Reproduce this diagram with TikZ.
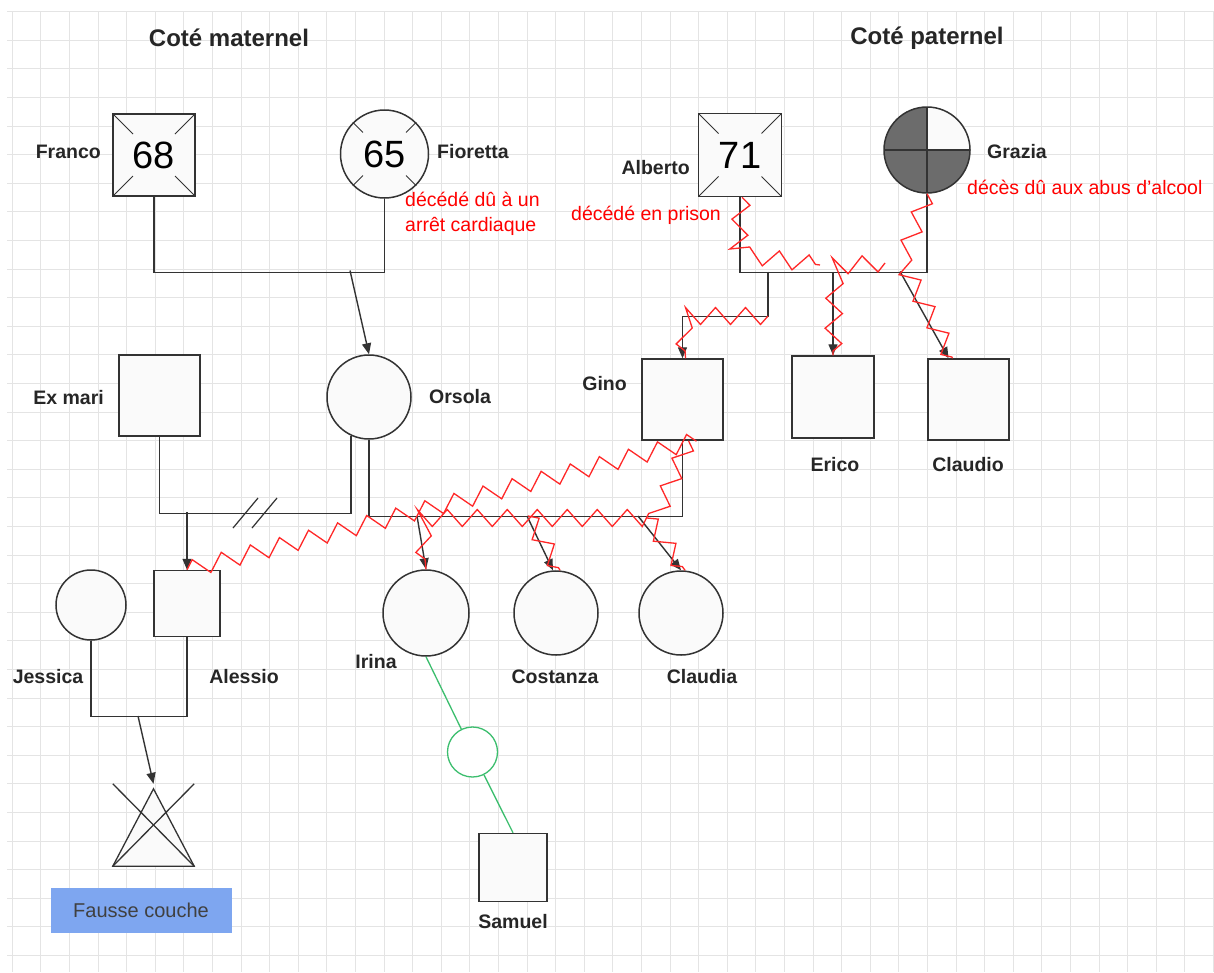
\documentclass[tikz,border=0pt]{standalone}
\usepackage{fontspec}
\setmainfont{Liberation Sans}
\usetikzlibrary{arrows.meta,decorations.pathmorphing,calc}
\newcommand\lblfont{\fontsize{19.5}{23}\selectfont\bfseries}
\newcommand\ttlfont{\fontsize{24}{28}\selectfont\bfseries}
\newcommand\numfont{\fontsize{38}{44}\selectfont}
\newcommand\redfont{\fontsize{19.5}{25}\selectfont}
\newcommand\fcfont{\fontsize{20}{24}\selectfont}
\definecolor{ink}{RGB}{51,51,51}
\definecolor{hostred}{RGB}{255,40,40}
\definecolor{fcblue}{RGB}{126,166,240}
\definecolor{ivfgreen}{RGB}{60,190,110}
\definecolor{gridc}{RGB}{228,228,228}
\definecolor{grazfill}{RGB}{108,108,108}
\tikzset{
  person/.style={draw=ink, line width=1.5pt, fill=black!2, inner sep=0pt},
  male/.style={person, rectangle, minimum size=#1},
  fem/.style={person, circle, minimum size=#1},
  ln/.style={draw=ink, line width=1.4pt},
  arr/.style={ln, -{Triangle[length=11pt,width=9pt]}},
  hostile/.style={draw=hostred, line width=1.3pt, decorate,
    decoration={zigzag, segment length=30pt, amplitude=8.5pt}},
  lbl/.style={font=\lblfont, text=black!85, inner sep=0pt},
  ttl/.style={font=\ttlfont, text=black!85, inner sep=0pt},
  redtxt/.style={font=\redfont, text=red, inner sep=0pt, align=left},
  gridline/.style={draw=gridc, line width=1pt},
  deadsq/.style={path picture={
    \draw[ink, line width=1pt] (path picture bounding box.north west) -- ++(20,20);
    \draw[ink, line width=1pt] (path picture bounding box.north east) -- ++(-20,20);
    \draw[ink, line width=1pt] (path picture bounding box.south west) -- ++(20,-20);
    \draw[ink, line width=1pt] (path picture bounding box.south east) -- ++(-20,-20);}},
}
\begin{document}
\begin{tikzpicture}[x=1pt, y=-1pt]
\useasboundingbox (0,0) rectangle (1214,972);
\fill[white] (0,0) rectangle (1214,972);
% grid
\begin{scope}
\clip (7,11.7) rectangle (1214,972);
\foreach \i in {0,...,42} { \draw[gridline] ({12.3+28.6*\i},11.7) -- ({12.3+28.6*\i},972); }
\foreach \j in {0,...,33} { \draw[gridline] (7,{11.7+28.6*\j}) -- (1214,{11.7+28.6*\j}); }
\end{scope}

% titles
\node[ttl] (tmat) at (229,38) {Coté maternel};
\node[ttl] (tpat) at (927,38) {Coté paternel};

% grandparents maternal
\node[male=82, deadsq, font=\numfont] (franco) at (154,155) {68};
\node[fem=88, font=\numfont] (fioretta) at (384.5,154) {65};
\foreach \a in {45,135,225,315} {
  \draw[ink, line width=1pt] (fioretta.\a) -- ($(fioretta.center)!0.68!(fioretta.\a)$);
}
\node[lbl, anchor=east] (lfranco) at (101,152) {Franco};
\node[lbl, anchor=west] (lfioretta) at (437,152) {Fioretta};
\node[redtxt, anchor=north west] (rfioretta) at (405,192) {décédé dû à un\\arrêt cardiaque};

% grandparents paternal
\node[male=83, deadsq, font=\numfont] (alberto) at (740,155) {71};
\node[fem=86, path picture={
   \fill[grazfill] (path picture bounding box.west) rectangle (path picture bounding box.north);
   \fill[grazfill] (path picture bounding box.west) rectangle (path picture bounding box.south);
   \fill[grazfill] (path picture bounding box.south) rectangle (path picture bounding box.east);
   \draw[ink, line width=1.2pt] (path picture bounding box.north) -- (path picture bounding box.south);
   \draw[ink, line width=1.2pt] (path picture bounding box.west) -- (path picture bounding box.east);
 }] (grazia) at (927,150) {};
\node[lbl, anchor=east] (lalberto) at (690,168) {Alberto};
\node[lbl, anchor=west] (lgrazia) at (987,152) {Grazia};
\node[redtxt, anchor=east] (ralberto) at (721,215) {décédé en prison};
\node[redtxt, anchor=west] (rgrazia) at (967,187) {décès dû aux abus d'alcool};

% parents generation
\node[male=81] (exmari) at (159.5,395.5) {};
\node[fem=84] (orsola) at (369,397) {};
\node[male=81] (gino) at (682.5,399.5) {};
\node[male=82] (erico) at (833,397) {};
\node[male=81] (claudio) at (968.5,399.5) {};
\node[lbl, anchor=east] (lexmari) at (104,398) {Ex mari};
\node[lbl, anchor=west] (lorsola) at (429,397) {Orsola};
\node[lbl, anchor=east] (lgino) at (627,384) {Gino};
\node[lbl] (lerico) at (835,465) {Erico};
\node[lbl] (lclaudio) at (968,465) {Claudio};

% children generation
\node[fem=70] (jessica) at (91,605) {};
\node[male=66] (alessio) at (187,603.5) {};
\node[fem=86] (irina) at (426,613) {};
\node[fem=84] (costanza) at (556,613) {};
\node[fem=84] (claudia) at (681,613) {};
\node[lbl] (ljessica) at (48,677) {Jessica};
\node[lbl] (lalessio) at (244,677) {Alessio};
\node[lbl] (lirina) at (376,662) {Irina};
\node[lbl] (lcostanza) at (555,677) {Costanza};
\node[lbl] (lclaudia) at (702,677) {Claudia};

% next generation
\node[circle, draw=ivfgreen, line width=1.3pt, fill=white, minimum size=50, inner sep=0pt] (ivf) at (472.5,752) {};
\node[male=68] (samuel) at (513,867.5) {};
\node[lbl] (lsamuel) at (513,922) {Samuel};
\node[inner sep=0pt, minimum width=81, minimum height=82] (fcouche) at (153.5,825) {};
\draw[ink, line width=1.3pt, fill=black!2] (fcouche.south west) -- (fcouche.south east) -- ([yshift=-5pt]fcouche.north) -- cycle;
\draw[ink, line width=1.3pt] (fcouche.north west) -- (fcouche.south east);
\draw[ink, line width=1.3pt] (fcouche.north east) -- (fcouche.south west);
\node[fill=fcblue, minimum width=181, minimum height=45, inner sep=0pt, font=\fcfont, text=black!75] (fcbox) at (141,910.5) {Fausse couche};

% junction coordinates
\coordinate (jmat) at (350,270.5);
\coordinate (jpg) at (768,271.5);
\coordinate (jpe) at (833,271.5);
\coordinate (jpc) at (900,271.5);
\coordinate (jex) at (187,512);
\coordinate (jir) at (417,516);
\coordinate (jco) at (527,516);
\coordinate (jcl) at (638,516);
\coordinate (jja) at (138,716);

% black connectors
\draw[ln] (franco.south) -- ++(0,75.5) -| (fioretta.south);
\draw[arr] (jmat) -- (orsola.north);
\draw[ln] (alberto.south) -- ++(0,75) -| (grazia.south);
\draw[arr] (jpg) -- ++(0,45) -| (gino.north);
\draw[arr] (jpe) -- (erico.north);
\draw[arr] (jpc) -- ([xshift=-20pt]claudio.north);
\draw[ln] (exmari.south) -- ++(0,76.5) -| (orsola.245);
\draw[ln, line width=1.2pt] (233,528) -- (258,498);
\draw[ln, line width=1.2pt] (252,528) -- (277,498);
\draw[arr] (jex) -- (alessio.north);
\draw[ln] (orsola.south) -- ++(0,77) -| (gino.south);
\draw[arr] (jir) -- (irina.north);
\draw[arr] (jco) -- ([xshift=-3pt]costanza.north);
\draw[arr] (jcl) -- (claudia.north);
\draw[ln] (jessica.south) -- ++(0,76) -| (alessio.south);
\draw[arr] (jja) -- (fcouche.north);
\draw[draw=ivfgreen, line width=1.3pt] (irina.south) -- (ivf);
\draw[draw=ivfgreen, line width=1.3pt] (ivf) -- (samuel.north);

% hostile (zigzag) connectors
\coordinate (hz1) at (885,263);
\draw[hostile] ([xshift=2pt]alberto.south) -- (738,254) -- (820,265);
\draw[hostile] (hz1) -- (835,266) -- (erico.north);
\draw[hostile] (grazia.south) -- (902,262) -- ([xshift=-16pt]claudio.north);
\draw[hostile] (768,316) -- (683,316) -- ([xshift=3pt]gino.north);
\draw[hostile] (alessio.north) -- ([xshift=14pt]gino.south);
\draw[hostile] ([xshift=6pt]gino.south) -- (656,518) -- (421,518) -- (irina.north);
\draw[hostile] (528,516) -- ([xshift=4pt]costanza.north);
\draw[hostile] (647,518) -- ([xshift=4pt]claudia.north);
\end{tikzpicture}
\end{document}
